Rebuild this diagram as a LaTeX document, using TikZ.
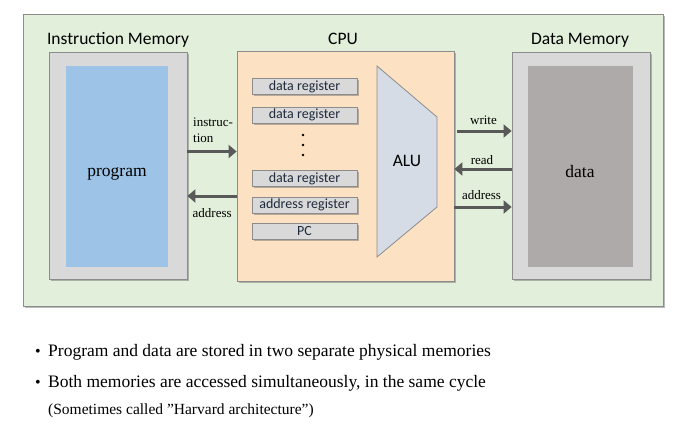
\documentclass[tikz,border=0pt]{standalone}
\usepackage{fontspec}
\setmainfont{Liberation Serif}
\newfontfamily\calibrifont{Carlito}
\usetikzlibrary{arrows.meta,shadows,calc}
\definecolor{bggreen}{HTML}{E2EFDA}
\definecolor{frame}{HTML}{8C8C8C}
\definecolor{memgray}{HTML}{D9D9D9}
\definecolor{progblue}{HTML}{9DC3E6}
\definecolor{datagray}{HTML}{AEAAAA}
\definecolor{cpupeach}{HTML}{FDE1C3}
\definecolor{alufill}{HTML}{D6DCE5}
\definecolor{arrgray}{HTML}{595959}
\definecolor{regtext}{HTML}{1F2A3C}
\tikzset{
  shad/.style={drop shadow={shadow xshift=1.5pt,shadow yshift=-1.5pt,opacity=0.45,fill=black!60}},
  membox/.style={draw=frame,line width=0.8pt,fill=memgray,shad,inner sep=0pt},
  innerbox/.style={draw=none,inner sep=0pt},
  cpubox/.style={draw=frame,line width=0.8pt,fill=cpupeach,shad,inner sep=0pt},
  regbox/.style={draw=frame,line width=0.6pt,fill=memgray,shad,inner sep=0pt,text=regtext,
     minimum width=105pt,minimum height=16pt,font=\calibrifont\fontsize{14}{16}\selectfont},
  title/.style={font=\calibrifont\fontsize{17.5}{20}\selectfont,anchor=base},
  biglbl/.style={font=\fontsize{17.5}{20}\selectfont,anchor=base},
  smlbl/.style={font=\fontsize{13}{15}\selectfont,anchor=base},
  arr/.style={draw=arrgray,line width=3pt,-{Triangle[length=8pt,width=13pt]},arrgray},
  bul/.style={font=\fontsize{17.5}{20}\selectfont,anchor=base west,inner sep=0pt},
  dot/.style={font=\fontsize{16}{18}\selectfont,anchor=base west,inner sep=0pt},
}
\begin{document}
\begin{tikzpicture}[x=1pt,y=-1pt]
\useasboundingbox (0,0) rectangle (688,424);
% outer
\node[draw=frame,line width=0.8pt,fill=bggreen,shad,minimum width=640pt,minimum height=292pt,inner sep=0pt] (outer) at (343,160) {};
% titles
\node[title] (tIM) at (118,44) {Instruction Memory};
\node[title] (tCPU) at (343,44) {CPU};
\node[title] (tDM) at (580,44) {Data Memory};
% instruction memory
\node[membox,minimum width=138pt,minimum height=227pt] (imem) at (118,165.5) {};
\node[innerbox,fill=progblue,minimum width=102pt,minimum height=201pt] (prog) at (117,166.5) {};
\node[biglbl] (progtxt) at (117,176) {program};
% data memory
\node[membox,minimum width=138pt,minimum height=227pt] (dmem) at (581,165.5) {};
\node[innerbox,fill=datagray,minimum width=105pt,minimum height=201pt] (dat) at (580.5,166.5) {};
\node[biglbl] (dattxt) at (580,177) {data};
% cpu
\node[cpubox,minimum width=217pt,minimum height=230pt] (cpu) at (345.5,166) {};
\node[regbox] (r1) at (304.5,86.5) {data register};
\node[regbox] (r2) at (304.5,115) {data register};
\node[regbox] (r3) at (304.5,178.5) {data register};
\node[regbox] (r4) at (304.5,205) {address register};
\node[regbox] (r5) at (304.5,231) {PC};
\fill[black] (303,135) circle (1.4pt) (303,145) circle (1.4pt) (303,155) circle (1.4pt);
% ALU
\coordinate (a1) at (377,66);
\coordinate (a2) at (437,117);
\coordinate (a3) at (437,207);
\coordinate (a4) at (377,257);
\draw[draw=frame,line width=0.8pt,fill=alufill] (a1) -- (a2) -- (a3) -- (a4) -- cycle;
\node[title] (alu) at (407,166) {ALU};
% arrow levels
\coordinate (yI) at (0,151.5);
\coordinate (yA) at (0,196);
\coordinate (yW) at (0,131);
\coordinate (yR) at (0,169);
\coordinate (yD) at (0,207);
\draw[arr] (imem.east |- yI) -- (cpu.west |- yI);
\draw[arr] (cpu.west |- yA) -- (imem.east |- yA);
\draw[arr] ([xshift=3pt]cpu.east |- yW) -- (dmem.west |- yW);
\draw[arr] (dmem.west |- yR) -- (cpu.east |- yR);
\draw[arr] (cpu.east |- yD) -- (dmem.west |- yD);
% arrow labels
\node[smlbl,anchor=base west,inner sep=0pt] (li1) at (193,126) {instruc-};
\node[smlbl,anchor=base west,inner sep=0pt] (li2) at (193,142) {tion};
\node[smlbl,anchor=base west,inner sep=0pt] (la) at (192.5,217) {address};
\node[smlbl] (lw) at (483.5,124) {write};
\node[smlbl] (lr) at (482,164) {read};
\node[smlbl] (ld) at (481.5,199) {address};
% bullets
\node[dot] (b1) at (35,356) {•};
\node[bul] (t1) at (48,356) {Program and data are stored in two separate physical memories};
\node[dot] (b2) at (35,387) {•};
\node[bul] (t2) at (48,387) {Both memories are accessed simultaneously, in the same cycle};
\node[font=\fontsize{15.5}{18}\selectfont,anchor=base west,inner sep=0pt] (t3) at (48,414) {(Sometimes called ”Harvard architecture”)};
\end{tikzpicture}
\end{document}
